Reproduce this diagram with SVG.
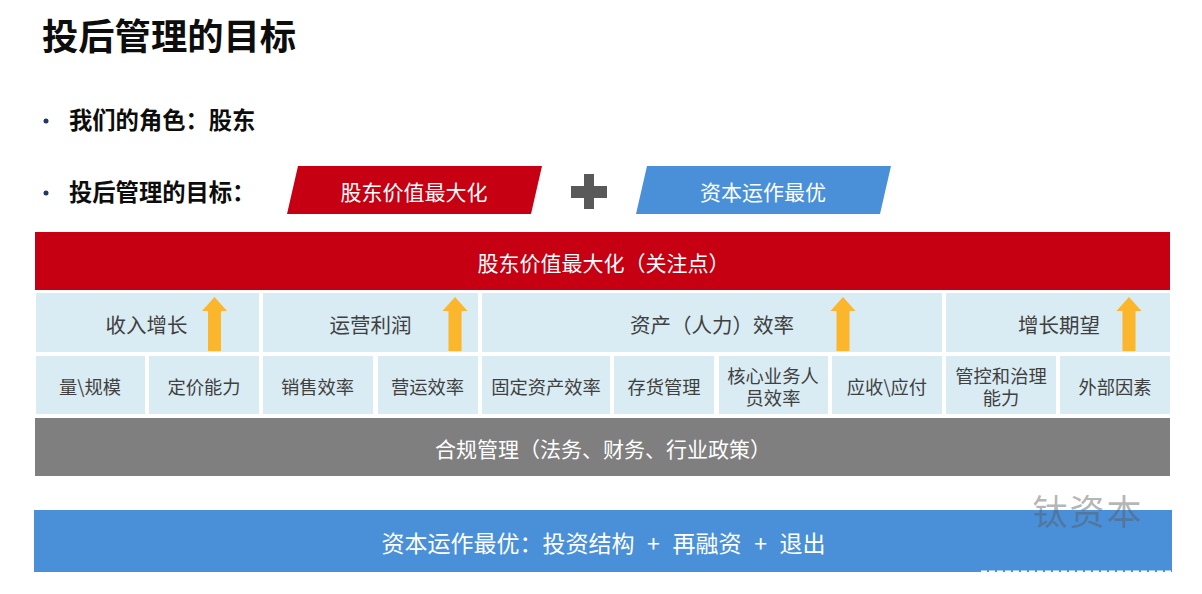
<svg xmlns="http://www.w3.org/2000/svg" width="1202" height="594" viewBox="0 0 1202 594">
<style>
text{font-family:"Noto Sans CJK SC","Noto Sans",sans-serif;text-anchor:middle}
.h{font-weight:700;fill:#0d0d0d;text-anchor:start}
.w{fill:#fff;font-size:21px}
.c1{fill:#d9ebf3}
.t1{fill:#404040;font-size:20.5px}
.t2{fill:#404040;font-size:18.3px}
</style>
<defs><path id="up" d="M0 0L12.5 14H6.5V54H-6.500V14H-12.500Z" fill="#fbb62c"/></defs>
<rect width="1202" height="594" fill="#fff"/>
<text class="h" x="42" y="50" font-size="36.300">投后管理的目标</text>
<circle cx="46" cy="121" r="2.500" fill="#1f3864"/>
<text class="h" x="69" y="129" font-size="23.300">我们的角色：股东</text>
<circle cx="46" cy="193" r="2.500" fill="#1f3864"/>
<text class="h" x="69" y="201" font-size="23.300">投后管理的目标：</text>
<g id="p-red"><polygon points="298,166 542,166 531,214 287,214" fill="#c60012"/><text class="w" x="414" y="200">股东价值最大化</text></g>
<g id="plus"><path d="M584 174H594V186H607V198H594V209H584V198H571V186H584Z" fill="#595959"/></g>
<g id="p-blue"><polygon points="647,166 891,166 880,214 636,214" fill="#4a90d9"/><text class="w" x="763" y="200">资本运作最优</text></g>
<g id="banner"><rect x="35" y="232" width="1135" height="58" fill="#c60012"/><text class="w" x="603.500" y="271">股东价值最大化（关注点）</text></g>
<g id="r1a"><rect class="c1" x="36" y="293" width="223" height="59"/><text class="t1" x="146.500" y="333">收入增长</text><use href="#up" x="214.500" y="297"/></g>
<g id="r1b"><rect class="c1" x="263" y="293" width="215" height="59"/><text class="t1" x="370.500" y="333">运营利润</text><use href="#up" x="455" y="297"/></g>
<g id="r1c"><rect class="c1" x="482" y="293" width="460" height="59"/><text class="t1" x="712" y="333">资产（人力）效率</text><use href="#up" x="843" y="297"/></g>
<g id="r1d"><rect class="c1" x="946" y="293" width="224" height="59"/><text class="t1" x="1059" y="333">增长期望</text><use href="#up" x="1129" y="297"/></g>
<g id="r2a"><rect class="c1" x="36" y="356" width="109" height="58"/><text class="t2" x="90" y="394">量\规模</text></g>
<g id="r2b"><rect class="c1" x="149" y="356" width="110" height="58"/><text class="t2" x="204" y="394">定价能力</text></g>
<g id="r2c"><rect class="c1" x="263" y="356" width="110" height="58"/><text class="t2" x="317.500" y="394">销售效率</text></g>
<g id="r2d"><rect class="c1" x="378" y="356" width="100" height="58"/><text class="t2" x="427.500" y="394">营运效率</text></g>
<g id="r2e"><rect class="c1" x="482" y="356" width="128" height="58"/><text class="t2" x="546" y="394">固定资产效率</text></g>
<g id="r2f"><rect class="c1" x="614" y="356" width="100" height="58"/><text class="t2" x="664" y="394">存货管理</text></g>
<g id="r2g"><rect class="c1" x="719" y="356" width="109" height="58"/><text class="t2" x="773" y="383">核心业务人</text><text class="t2" x="773" y="405">员效率</text></g>
<g id="r2h"><rect class="c1" x="832" y="356" width="110" height="58"/><text class="t2" x="887" y="394">应收\应付</text></g>
<g id="r2i"><rect class="c1" x="946" y="356" width="110" height="58"/><text class="t2" x="1001" y="383">管控和治理</text><text class="t2" x="1001" y="405">能力</text></g>
<g id="r2j"><rect class="c1" x="1060" y="356" width="110" height="58"/><text class="t2" x="1115" y="394">外部因素</text></g>
<g id="gray"><rect x="35" y="418" width="1135" height="58" fill="#7f7f7f"/><text class="w" x="603" y="457" style="font-size:21px">合规管理（法务、财务、行业政策）</text></g>
<g id="blue"><rect x="34" y="510" width="1138" height="62" fill="#4a90d9"/><text class="w" x="603.500" y="552" style="font-size:23px;word-spacing:7.500px">资本运作最优：投资结构 + 再融资 + 退出</text></g>
<line x1="981" y1="571.500" x2="1172" y2="571.500" stroke="#fff" stroke-width="2" stroke-dasharray="6 2"/>
<text x="1088" y="525" font-size="35" fill="#595959" fill-opacity=".45" style="font-family:'Noto Sans CJK SC',serif" letter-spacing="2">钛资本</text>
</svg>
